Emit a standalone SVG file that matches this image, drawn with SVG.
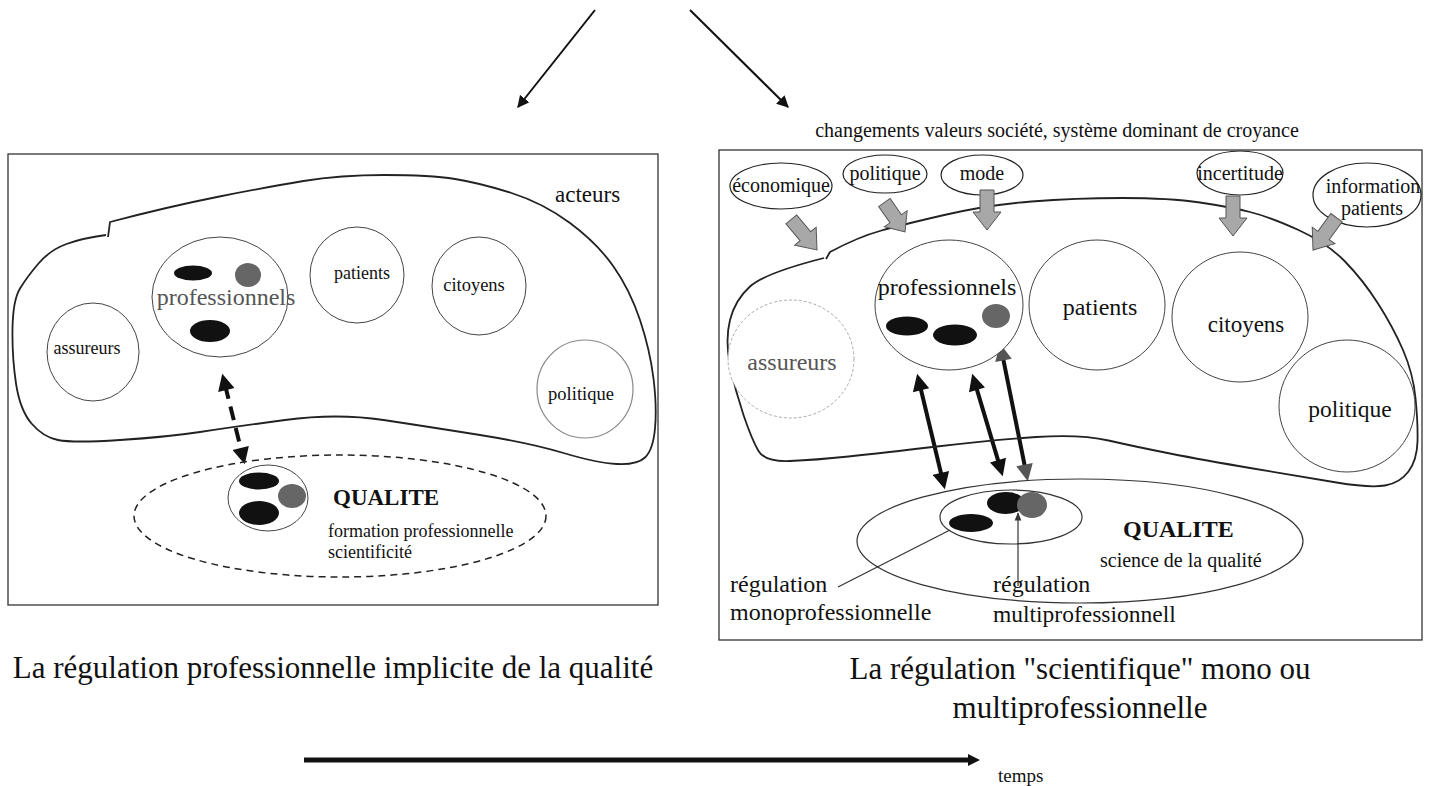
<svg xmlns="http://www.w3.org/2000/svg" width="1430" height="786" viewBox="0 0 1430 786">
  <style>
    text { font-family: "Liberation Serif", "Times New Roman", serif; fill: #111; }
    .frame { fill: none; stroke: #333; stroke-width: 1.3; }
    .blob { fill: none; stroke: #222; stroke-width: 1.8; stroke-linejoin: round; }
    .actor { fill: #fff; stroke: #444; stroke-width: 1; }
    .cap { font-size: 31px; text-anchor: middle; }
    .mid { text-anchor: middle; }
    .blk { fill: #111; }
    .gry { fill: #666; }
    .infl { fill: #fff; stroke: #222; stroke-width: 1.2; }
    .push { fill: #a8a8a8; stroke: #555; stroke-width: 1; }
    .dbl { stroke: #111; stroke-width: 4; fill: none; }
  </style>
  <defs>
    <marker id="ah" viewBox="0 0 10 10" refX="9" refY="5" markerWidth="6" markerHeight="6" orient="auto">
      <path d="M0,0 L10,5 L0,10 z" fill="#111"/>
    </marker>
    <marker id="ahBig" viewBox="0 0 10 10" refX="3" refY="5" markerWidth="4.5" markerHeight="4.2" orient="auto-start-reverse">
      <path d="M0,0 L10,5 L0,10 z" fill="#111"/>
    </marker>
    <marker id="ahGrey" viewBox="0 0 10 10" refX="3" refY="5" markerWidth="4.5" markerHeight="4.2" orient="auto-start-reverse">
      <path d="M0,0 L10,5 L0,10 z" fill="#555"/>
    </marker>
    <marker id="ahTime" viewBox="0 0 10 10" refX="5" refY="5" markerWidth="2.6" markerHeight="2.4" orient="auto">
      <path d="M0,0 L10,5 L0,10 z" fill="#111"/>
    </marker>
    <marker id="ahSmall" viewBox="0 0 10 10" refX="9" refY="5" markerWidth="7" markerHeight="7" orient="auto">
      <path d="M0,1 L10,5 L0,9 z" fill="#333"/>
    </marker>
    <!-- block arrow, tip at origin, pointing down -->
    <path id="push" d="M-7,-40 L7,-40 L7,-18 L14,-18 L0,0 L-14,-18 L-7,-18 z"/>
  </defs>

  <!-- connectors -->
  <g id="connectors">
    <line x1="595" y1="10" x2="518" y2="107" stroke="#111" stroke-width="2" marker-end="url(#ah)"/>
    <line x1="690" y1="10" x2="788" y2="107" stroke="#111" stroke-width="2" marker-end="url(#ah)"/>
    <line x1="225.1" y1="385.2" x2="241.9" y2="452.8" class="dbl" stroke-dasharray="14 8" marker-start="url(#ahBig)" marker-end="url(#ahBig)"/>
    <line x1="919.9" y1="385.3" x2="942.1" y2="477.8" class="dbl" marker-start="url(#ahBig)" marker-end="url(#ahBig)"/>
    <line x1="975.6" y1="385.1" x2="999.4" y2="464.9" class="dbl" marker-start="url(#ahBig)" marker-end="url(#ahBig)"/>
    <line x1="1002.5" y1="355.4" x2="1025.5" y2="469.6" class="dbl" marker-start="url(#ahGrey)" marker-end="url(#ahGrey)"/>
    <line x1="304" y1="760" x2="974" y2="760" stroke="#111" stroke-width="5" marker-end="url(#ahTime)"/>
  </g>

  <!-- left panel -->
  <g id="left-panel">
    <rect class="frame" x="8" y="154" width="650" height="451"/>
    <path class="blob" d="M108,237 L110,222 Q167,207 217,197 Q267,187 303.5,181 Q340,175 385,175 Q430,175 455,179 Q480,183 511.5,193 Q543,203 570,223 Q597,243 613.5,266.5 Q630,290 640,320 Q650,350 653.5,378.5 Q657,407 655,428.5 Q653,450 645,457.5 Q637,465 617,464 Q597,463 563.5,453 Q530,443 480,435 Q430,427 383.5,420 Q337,413 285,420 Q233,427 200,432 Q167,437 120,440 Q73,443 58,440 Q43,437 31.5,423.5 Q20,410 16,383.5 Q12,357 12.5,328.5 Q13,300 20,288.5 Q27,277 38.5,263.5 Q50,250 66.5,244 Q83,238 106,235"/>
    <text x="555" y="202" font-size="23">acteurs</text>
  </g>

  <g id="l-assureurs">
    <ellipse class="actor" cx="93" cy="352" rx="46" ry="49"/>
    <text x="87" y="354" font-size="18" class="mid">assureurs</text>
  </g>
  <g id="l-professionnels">
    <ellipse class="actor" cx="220" cy="297" rx="68" ry="60"/>
    <text x="226" y="305" font-size="24" class="mid" style="fill:#555">professionnels</text>
    <ellipse class="blk" cx="193" cy="273" rx="19" ry="7.5"/>
    <ellipse class="gry" cx="248" cy="275" rx="13" ry="12"/>
    <ellipse class="blk" cx="210" cy="331" rx="20" ry="11"/>
  </g>
  <g id="l-patients">
    <ellipse class="actor" cx="357" cy="275" rx="47" ry="48"/>
    <text x="362" y="279" font-size="18" class="mid">patients</text>
  </g>
  <g id="l-citoyens">
    <ellipse class="actor" cx="479" cy="286" rx="47" ry="49"/>
    <text x="474" y="291" font-size="18.5" class="mid">citoyens</text>
  </g>
  <g id="l-politique">
    <ellipse cx="585" cy="389" rx="48" ry="49" fill="#fff" stroke="#888" stroke-width="1.2"/>
    <text x="581" y="400" font-size="18.5" class="mid">politique</text>
  </g>
  <g id="l-qualite">
    <ellipse cx="340" cy="516" rx="206" ry="61" fill="none" stroke="#222" stroke-width="1.5" stroke-dasharray="7 5"/>
    <ellipse class="actor" cx="268" cy="498" rx="40" ry="33"/>
    <ellipse class="blk" cx="259" cy="481" rx="20" ry="8.5"/>
    <ellipse class="gry" cx="292" cy="496" rx="14" ry="12"/>
    <ellipse class="blk" cx="259" cy="513" rx="20" ry="12"/>
    <text x="333" y="505" font-size="23" font-weight="bold">QUALITE</text>
    <text x="328" y="537" font-size="18">formation professionnelle</text>
    <text x="328" y="558" font-size="18">scientificité</text>
  </g>
  <text class="cap" x="333" y="678">La régulation professionnelle implicite de la qualité</text>

  <!-- right panel -->
  <g id="right-panel">
    <text x="1057" y="137" font-size="20" class="mid">changements valeurs société, système dominant de croyance</text>
    <rect class="frame" x="719" y="150" width="703" height="490"/>
    <path class="blob" d="M826,259 L830,252 Q858,237 881.5,230.5 Q905,224 946.5,214.5 Q988,205 1031.5,201.5 Q1075,198 1122.5,198 Q1170,198 1200,202.5 Q1230,207 1250,212 Q1270,217 1298.5,230 Q1327,243 1345,261.5 Q1363,280 1378,303.5 Q1393,327 1403,350 Q1413,373 1415.5,398 Q1418,423 1417.5,441.5 Q1417,460 1408.5,471.5 Q1400,483 1385,485.5 Q1370,488 1336.5,482.5 Q1303,477 1253,468.5 Q1203,460 1170,453.5 Q1137,447 1108.5,440.5 Q1080,434 1036,437 Q992,440 937,446.5 Q882,453 848.5,456.5 Q815,460 790,461 Q765,462 758.5,451 Q752,440 743.5,415 Q735,390 730,365 Q725,340 730,320 Q735,300 750,286.5 Q765,273 824,258"/>
  </g>

  <g id="r-economique">
    <ellipse class="infl" cx="781" cy="186" rx="51" ry="23"/>
    <text x="781" y="192" font-size="20" class="mid">économique</text>
    <use href="#push" class="push" transform="translate(817,250) rotate(-40)"/>
  </g>
  <g id="r-politique-infl">
    <ellipse class="infl" cx="885" cy="174" rx="42" ry="19"/>
    <text x="885" y="180" font-size="20" class="mid">politique</text>
    <use href="#push" class="push" transform="translate(905,232) rotate(-35) scale(1,0.9)"/>
  </g>
  <g id="r-mode">
    <ellipse class="infl" cx="982" cy="175" rx="41" ry="20"/>
    <text x="982" y="180" font-size="20" class="mid">mode</text>
    <use href="#push" class="push" transform="translate(987,230)"/>
  </g>
  <g id="r-incertitude">
    <ellipse class="infl" cx="1240" cy="173" rx="43" ry="22"/>
    <text x="1240" y="180" font-size="20" class="mid">incertitude</text>
    <use href="#push" class="push" transform="translate(1233,236)"/>
  </g>
  <g id="r-information">
    <ellipse class="infl" cx="1367" cy="195" rx="54" ry="32"/>
    <text x="1373" y="193" font-size="20" class="mid">information</text>
    <text x="1372" y="215" font-size="20" class="mid">patients</text>
    <use href="#push" class="push" transform="translate(1313,250) rotate(36)"/>
  </g>

  <g id="r-assureurs">
    <ellipse cx="791" cy="359" rx="63" ry="59" fill="#fff" stroke="#aaa" stroke-width="1" stroke-dasharray="3 2"/>
    <text x="792" y="370" font-size="24" class="mid" style="fill:#555">assureurs</text>
  </g>
  <g id="r-professionnels">
    <ellipse class="actor" cx="949" cy="305" rx="74" ry="65"/>
    <text x="947" y="295" font-size="24" class="mid">professionnels</text>
    <ellipse class="blk" cx="907" cy="326" rx="21" ry="9.5"/>
    <ellipse class="blk" cx="955" cy="335" rx="22" ry="10.5"/>
    <ellipse class="gry" cx="996" cy="316" rx="14" ry="12"/>
  </g>
  <g id="r-patients">
    <ellipse class="actor" cx="1097" cy="305" rx="68" ry="65"/>
    <text x="1100" y="315" font-size="24" class="mid">patients</text>
  </g>
  <g id="r-citoyens">
    <ellipse class="actor" cx="1240" cy="317" rx="68" ry="65"/>
    <text x="1246" y="332" font-size="23" class="mid">citoyens</text>
  </g>
  <g id="r-politique">
    <ellipse class="actor" cx="1347" cy="406" rx="68" ry="66"/>
    <text x="1350" y="417" font-size="23.5" class="mid">politique</text>
  </g>
  <g id="r-qualite">
    <ellipse cx="1080" cy="541" rx="223" ry="62" fill="none" stroke="#333" stroke-width="1.2"/>
    <ellipse cx="1011" cy="517" rx="71" ry="27" fill="none" stroke="#333" stroke-width="1.2"/>
    <ellipse class="blk" cx="1006" cy="503" rx="19" ry="11"/>
    <ellipse class="gry" cx="1032" cy="505" rx="15" ry="13"/>
    <ellipse class="blk" cx="971" cy="523" rx="22" ry="9"/>
    <text x="1123" y="537" font-size="24" font-weight="bold">QUALITE</text>
    <text x="1100" y="567" font-size="20">science de la qualité</text>
  </g>
  <g id="r-labels">
    <line x1="838" y1="587" x2="950" y2="530" stroke="#333" stroke-width="1.2"/>
    <text x="730" y="592" font-size="24">régulation</text>
    <text x="730" y="620" font-size="24">monoprofessionnelle</text>
    <line x1="1018" y1="586" x2="1018" y2="513" stroke="#333" stroke-width="1.2" marker-end="url(#ahSmall)"/>
    <text x="993" y="592" font-size="24">régulation</text>
    <text x="993" y="622" font-size="23.5">multiprofessionnell</text>
  </g>
  <text class="cap" x="1080" y="679">La régulation "scientifique" mono ou</text>
  <text class="cap" x="1080" y="718">multiprofessionnelle</text>
  <text x="998" y="782" font-size="19">temps</text>
</svg>
